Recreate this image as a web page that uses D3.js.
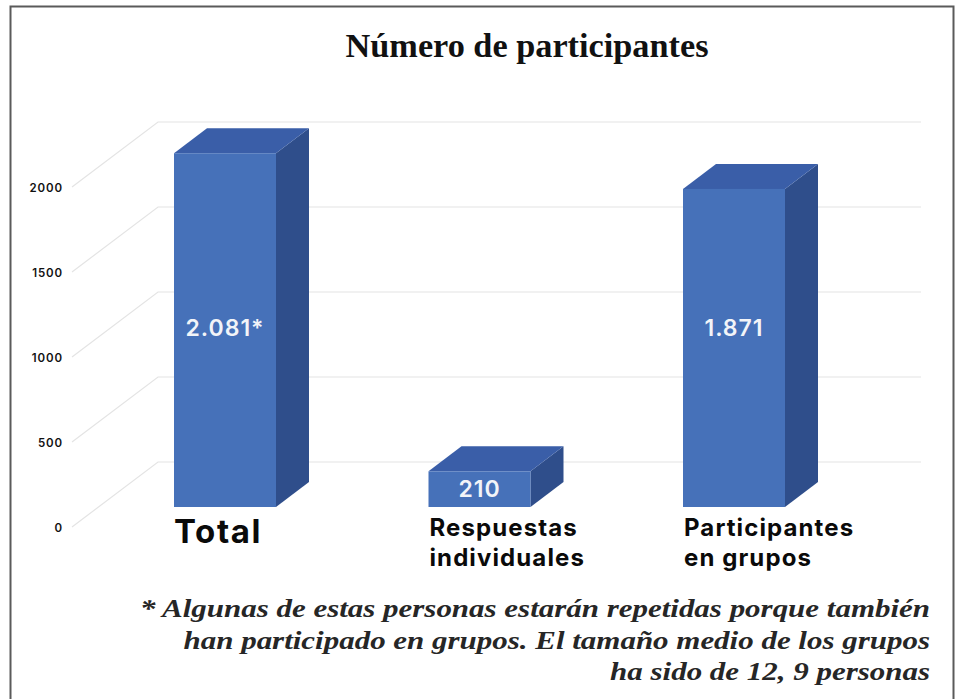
<!DOCTYPE html>
<html>
<head>
<meta charset="utf-8">
<script src="https://cdn.jsdelivr.net/npm/d3@7/dist/d3.min.js"></script>
<style>
  html, body { margin: 0; padding: 0; background: #fff; }
  svg { display: block; }
</style>
</head>
<body>
<svg id="chart" width="960" height="699"></svg>
<script>
// ---- data ----
const title = "Número de participantes";
const categories = ["Total", "Respuestas individuales", "Participantes en grupos"];
const categoryLines = [["Total"], ["Respuestas", "individuales"], ["Participantes", "en grupos"]];
const values = [2081, 210, 1871];
const valueLabels = ["2.081*", "210", "1.871"];
const yTicks = [0, 500, 1000, 1500, 2000];
const footnoteLines = [
  "* Algunas de estas personas estarán repetidas porque también",
  "han participado en grupos. El tamaño medio de los grupos",
  "ha sido de 12, 9 personas"
];

// ---- layout ----
const W = 960, H = 699;
const svg = d3.select("#chart");

// frame
svg.append("path")
  .attr("d", `M10.5,${H + 2} V6.5 H953.5 V${H + 2}`)
  .attr("fill", "none")
  .attr("stroke", "#5a5a5a")
  .attr("stroke-width", 2);

// back-wall value scale
const y = d3.scaleLinear().domain([0, 2000]).range([462, 122]);
const floorDepth = { dx: 86, dy: -65 };     // front edge -> back wall
const backX0 = 158, backX1 = 921;
const frontX = backX0 - floorDepth.dx;

// gridlines (diagonal side wall + back wall)
const grid = svg.append("g").attr("fill", "none").attr("stroke", "#e4e4e4").attr("stroke-width", 1.2);
yTicks.forEach(t => {
  const yb = y(t);
  grid.append("path")
    .attr("d", `M${frontX},${yb - floorDepth.dy} L${backX0},${yb} L${backX1},${yb}`);
});

// tick labels
svg.append("g").selectAll("text").data(yTicks).join("text")
  .attr("x", 63)
  .attr("y", d => y(d) - floorDepth.dy + 2)
  .attr("text-anchor", "end")
  .attr("dominant-baseline", "middle")
  .attr("font-family", "Inter, 'DejaVu Sans', sans-serif")
  .attr("font-weight", 600)
  .attr("font-size", 11.5)
  .attr("letter-spacing", 0.9)
  .attr("fill", "#111")
  .text(d => d);

// bars
const x = d3.scalePoint().domain(categories).range([225, 734]);
const barW = 102;
const barFront = { dx: -59, dy: 45 };   // bar front face relative to back wall
const barDepth = { dx: 33, dy: -25 };
const cFront = "#4671b9", cSide = "#2f4e8b", cTop = "#3a5ea8";
const tallLabelY = y(d3.max(values) / 2) + barFront.dy;

const bars = svg.append("g");
categories.forEach((c, i) => {
  const v = values[i];
  const x0 = x(c) - barW / 2, x1 = x(c) + barW / 2;
  const yt = y(v) + barFront.dy, yb = y(0) + barFront.dy;
  const g = bars.append("g");
  g.append("polygon")
    .attr("points", [[x1, yt], [x1 + barDepth.dx, yt + barDepth.dy], [x1 + barDepth.dx, yb + barDepth.dy], [x1, yb]].join(" "))
    .attr("fill", cSide);
  g.append("polygon")
    .attr("points", [[x0, yt], [x1, yt], [x1 + barDepth.dx, yt + barDepth.dy], [x0 + barDepth.dx, yt + barDepth.dy]].join(" "))
    .attr("fill", cTop);
  g.append("rect")
    .attr("x", x0).attr("y", yt).attr("width", barW).attr("height", yb - yt)
    .attr("fill", cFront);
  const ly = (yb - yt) > 100 ? tallLabelY : (yt + yb) / 2 + 2;
  g.append("text")
    .attr("x", x(c)).attr("y", ly)
    .attr("text-anchor", "middle")
    .attr("dominant-baseline", "middle")
    .attr("font-family", "Inter, 'DejaVu Sans', sans-serif")
    .attr("font-weight", 600)
    .attr("font-size", 23)
    .attr("letter-spacing", 1)
    .attr("fill", "#f2f4f8")
    .text(valueLabels[i]);
});

// category labels
categories.forEach((c, i) => {
  const x0 = x(c) - barW / 2;
  const lines = categoryLines[i];
  const big = lines.length === 1;
  const t = svg.append("text")
    .attr("font-family", "Inter, 'DejaVu Sans', sans-serif")
    .attr("font-weight", 700)
    .attr("font-size", big ? 33 : 24)
    .attr("letter-spacing", big ? 1.6 : 1.1)
    .attr("fill", "#0a0a0a");
  lines.forEach((l, j) => {
    t.append("tspan")
      .attr("x", big ? x0 : x0 + 1)
      .attr("y", big ? 543 : 536 + j * 30)
      .text(l);
  });
});

// title
const tt = svg.append("text")
  .attr("x", 527).attr("y", 57)
  .attr("text-anchor", "middle")
  .attr("font-family", "'Liberation Serif', 'DejaVu Serif', serif")
  .attr("font-weight", 700)
  .attr("font-size", 30)
  .attr("fill", "#111")
  .text(title);
{
  const w = tt.node().getComputedTextLength();
  tt.attr("font-size", 30 * 363 / w);
}

// footnote
const fn = svg.append("g")
  .attr("font-family", "'Liberation Serif', 'DejaVu Serif', serif")
  .attr("font-style", "italic")
  .attr("font-weight", 700)
  .attr("fill", "#262626")
  .attr("font-size", 25);
const fnT = fn.selectAll("text").data(footnoteLines).join("text")
  .attr("x", 930)
  .attr("y", (d, i) => 617 + i * 31.5)
  .attr("text-anchor", "end")
  .text(d => d);
{
  const nodes = fnT.nodes();
  const k = 790 / nodes[0].getComputedTextLength();
  nodes.forEach(n => {
    const w = n.getComputedTextLength();
    d3.select(n).attr("textLength", w * k).attr("lengthAdjust", "spacingAndGlyphs");
  });
}
</script>
</body>
</html>
